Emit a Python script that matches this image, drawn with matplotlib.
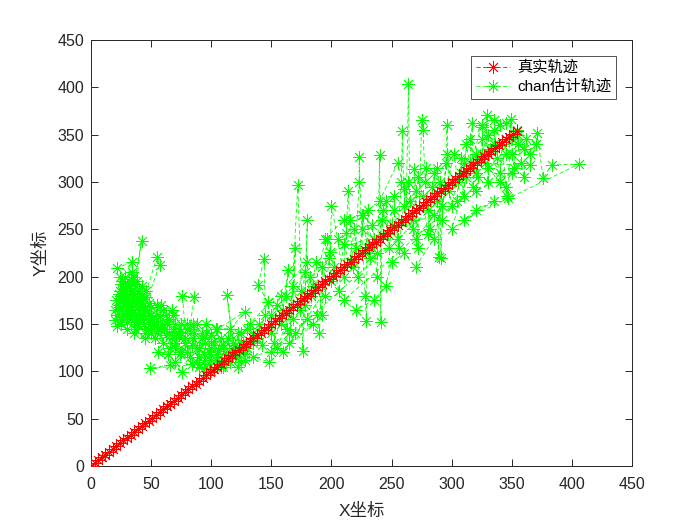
import matplotlib
matplotlib.use('Agg')
import matplotlib.pyplot as plt

plt.rcParams['font.family'] = ['Liberation Sans', 'Noto Sans CJK SC', 'DejaVu Sans']

# 真实轨迹 (straight diagonal, y = x)
true_x = [0, 3, 6, 9, 12, 15, 18, 21, 24, 27, 30, 33, 36, 39, 42, 45, 48, 51, 54, 57,
          60, 63, 66, 69, 72, 75, 78, 81, 84, 87, 90, 93, 96, 99, 102, 105, 108, 111, 114, 117,
          120, 123, 126, 129, 132, 135, 138, 141, 144, 147, 150, 153, 156, 159, 162, 165, 168, 171, 174, 177,
          180, 183, 186, 189, 192, 195, 198, 201, 204, 207, 210, 213, 216, 219, 222, 225, 228, 231, 234, 237,
          240, 243, 246, 249, 252, 255, 258, 261, 264, 267, 270, 273, 276, 279, 282, 285, 288, 291, 294, 297,
          300, 303, 306, 309, 312, 315, 318, 321, 324, 327, 330, 333, 336, 339, 342, 345, 348, 351, 354]
true_y = list(true_x)

# chan估计轨迹 (roughly in time order)
est_x = [30, 25, 35, 22, 28, 40, 33, 26, 45, 38, 20, 30, 42, 36, 24, 32, 27, 44, 48, 34,
         22, 34, 29, 37, 25, 40, 31, 46, 55, 57, 39, 28, 35, 43, 50, 23, 33, 41, 47, 30,
         26, 38, 52, 36, 45, 30, 42, 55, 49, 60,
         21, 23, 24, 26, 27, 29, 31, 32, 34, 36, 37, 39, 41, 43, 20, 22, 25, 28, 30, 33,
         35, 38, 40, 44, 46, 48, 50, 52, 54, 56, 24, 27, 31, 35, 39, 43, 47, 51, 55, 59,
         26, 29, 33, 37, 41, 45, 49, 53, 57, 61, 63, 65, 67, 69, 71, 73, 62, 66, 70, 74,
         50, 55, 60, 58, 65, 62, 70, 68, 72, 75, 78, 80, 76, 86, 82, 85, 88, 90, 92, 95,
         98, 100, 96, 102, 105, 108, 110, 112, 49, 66, 76, 56, 64, 70, 84, 94, 100, 106, 115, 118,
         113, 120, 122, 125, 58, 67, 74, 88, 104, 116, 128,
         75, 78, 80, 82, 84, 86, 88, 90, 92, 94, 96, 98, 100, 102, 104, 106, 108, 110, 112, 114,
         116, 118, 120, 122, 124, 126, 128, 130, 80, 85, 90, 95, 100, 105, 110, 115, 120, 125, 130, 135,
         125, 130, 135, 128, 140, 138, 145, 144, 139, 147, 150, 155, 152, 160, 158, 164, 162, 168, 170, 165,
         172, 175, 176, 180, 178, 182, 185, 188, 190, 192, 195, 198, 200, 160, 170, 185, 148, 135, 155, 180,
         132, 142, 150, 158, 163, 168, 174, 178, 183, 187, 192, 196, 202, 206, 210, 215, 219, 222, 226, 230,
         234, 238, 243, 247, 252, 256, 260, 264, 268, 272, 276, 280, 284, 288, 292, 296, 300, 304, 308, 312,
         150, 165, 180, 195, 210, 225, 240, 255, 270, 285,
         199, 200, 205, 210, 212, 214, 215, 218, 220, 223, 223, 225, 228, 229, 230, 232, 235, 238, 240, 241,
         242, 245, 248, 250, 252, 255, 258, 259, 260, 262, 264, 265, 268, 269, 270, 272, 275, 276, 278, 279,
         280, 282, 285, 288, 289, 290, 291, 292, 295, 296, 298, 300, 210, 220, 235, 245, 250, 260, 270, 285,
         302, 305, 308, 310, 312, 315, 317, 318, 320, 322, 325, 328, 329, 330, 332, 335, 338, 340, 342, 345,
         315, 320, 325, 330, 335, 340, 345, 350, 355, 360, 330, 340, 350, 320, 310, 365, 370, 345, 335, 325,
         346, 347, 349, 350, 352, 354, 355, 358, 360, 362, 365, 371, 376, 383, 406, 310, 320, 335, 300, 325]
est_y = [180, 192, 170, 160, 200, 185, 155, 175, 165, 195, 154, 145, 238, 175, 185, 190, 168, 150, 172, 205,
         209, 216, 178, 160, 150, 170, 165, 185, 221, 212, 148, 188, 182, 176, 160, 170, 198, 158, 145, 172,
         160, 178, 150, 140, 135, 152, 190, 170, 155, 165,
         175, 182, 168, 195, 158, 188, 172, 162, 178, 192, 150, 168, 182, 160, 165, 148, 180, 170, 190, 160,
         200, 172, 155, 165, 178, 158, 168, 148, 160, 145, 200, 183, 176, 165, 150, 170, 160, 155, 140, 150,
         155, 162, 185, 145, 175, 140, 150, 135, 158, 145, 150, 140, 135, 145, 130, 138, 160, 125, 150, 142,
         140, 150, 130, 145, 155, 138, 125, 160, 140, 150, 130, 120, 180, 179, 145, 135, 125, 115, 140, 130,
         120, 112, 150, 128, 118, 135, 125, 110, 103, 107, 99, 120, 118, 110, 108, 104, 100, 108, 120, 130,
         181, 115, 140, 110, 170, 165, 118, 150, 145, 145, 163,
         120, 135, 145, 115, 128, 140, 110, 125, 135, 118, 140, 108, 125, 132, 112, 122, 105, 128, 115, 135,
         110, 125, 118, 105, 120, 130, 112, 125, 150, 150, 105, 112, 138, 145, 105, 115, 128, 140, 145, 130,
         130, 125, 140, 118, 150, 135, 160, 219, 191, 173, 140, 170, 130, 165, 150, 207, 180, 155, 230, 130,
         297, 185, 122, 260, 170, 200, 190, 160, 141, 210, 180, 220, 195, 120, 140, 150, 110, 115, 125, 215,
         150, 128, 160, 180, 145, 190, 165, 205, 180, 215, 160, 240, 210, 185, 235, 215, 250, 200, 265, 230,
         255, 225, 270, 245, 285, 230, 275, 300, 260, 305, 285, 245, 295, 315, 275, 330, 300, 280, 325, 305,
         120, 140, 155, 240, 260, 265, 280, 320, 240, 265,
         226, 275, 240, 200, 246, 290, 260, 210, 230, 300, 326, 250, 180, 153, 270, 220, 240, 200, 328, 152,
         260, 280, 230, 255, 270, 240, 300, 354, 293, 260, 404, 280, 250, 314, 290, 230, 365, 355, 300, 315,
         270, 250, 310, 280, 221, 300, 220, 260, 320, 360, 290, 275, 175, 165, 175, 190, 215, 225, 210, 240,
         330, 300, 310, 285, 340, 320, 362, 295, 330, 305, 345, 320, 371, 300, 335, 355, 325, 310, 340, 295,
         345, 310, 330, 350, 340, 360, 330, 345, 350, 335, 315, 300, 310, 290, 320, 318, 340, 362, 365, 358,
         285, 283, 367, 330, 315, 355, 340, 320, 305, 345, 330, 352, 304, 318, 319, 260, 270, 280, 250, 360]

fig = plt.figure(figsize=(7, 5.25), dpi=100)
ax = fig.add_axes([0.13, 0.1124, 0.773, 0.8114])

star = (8, 2, 0)
ax.plot(true_x, true_y, linestyle='--', dashes=(5, 3), color=(1, 0, 0), marker=star,
        markersize=9, markeredgewidth=0.6, linewidth=0.6, label='真实轨迹', zorder=3)
ax.plot(est_x, est_y, linestyle='--', dashes=(5, 3), color=(0, 1, 0), marker=star,
        markersize=9, markeredgewidth=0.6, linewidth=0.6, label='chan估计轨迹', zorder=2)

ax.set_xlim(0, 450)
ax.set_ylim(0, 450)
ax.set_xticks(range(0, 451, 50))
ax.set_yticks(range(0, 451, 50))
ax.tick_params(direction='in', top=True, right=True, labelsize=11.5, length=5, width=0.7,
               colors='#262626')
ax.tick_params(axis='x', pad=8)
ax.tick_params(axis='y', pad=5)
for s in ax.spines.values():
    s.set_linewidth(0.7)
    s.set_color('#262626')

ax.set_xlabel('X坐标', fontsize=12.5, color='#262626', labelpad=8)
ax.set_ylabel('Y坐标', fontsize=12.5, color='#262626', labelpad=6)

leg = ax.legend(loc='upper right', bbox_to_anchor=(0.97, 0.962), fontsize=11,
                frameon=True, fancybox=False, edgecolor='#262626', borderpad=0.3,
                handlelength=2.2, labelspacing=0.3, handletextpad=0.5, borderaxespad=0)
leg.get_frame().set_linewidth(0.7)

fig.savefig('out.png', dpi=100)
